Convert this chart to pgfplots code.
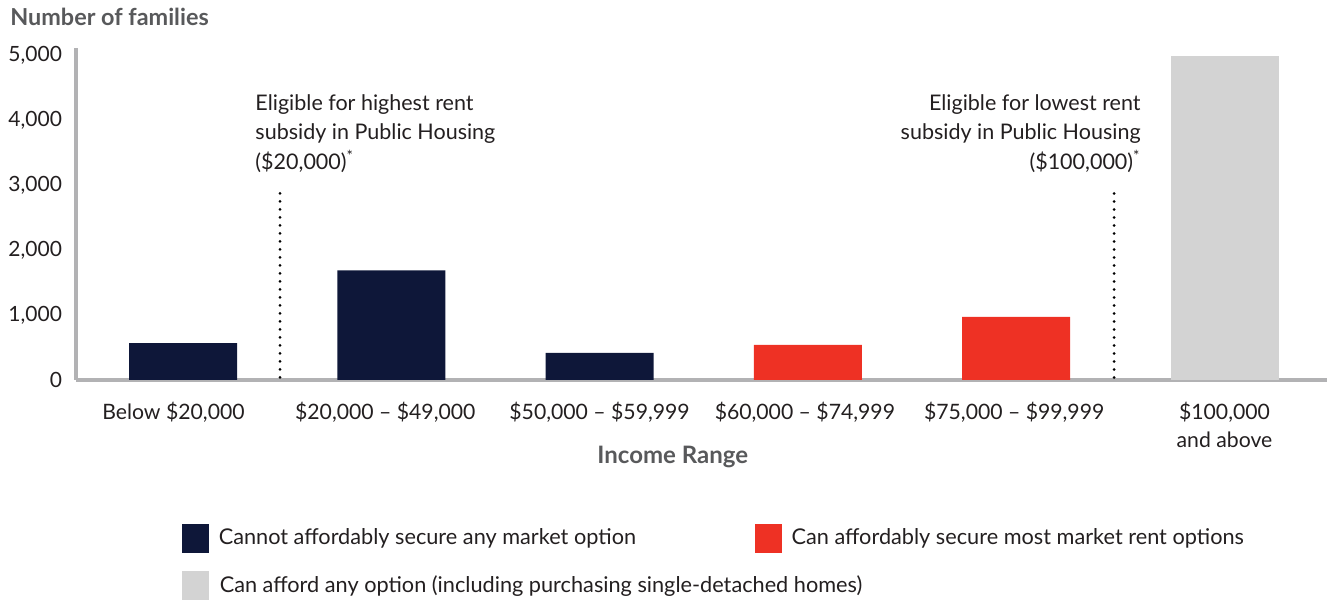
\documentclass[border=0pt]{standalone}
\usepackage{fontspec}
\setmainfont{Lato}
\usepackage{pgfplots}
\pgfplotsset{compat=1.18}
\definecolor{navy}{HTML}{0E1739}
\definecolor{cred}{HTML}{EE3124}
\definecolor{lgray}{HTML}{D3D3D3}
\definecolor{axgray}{HTML}{B2B2B4}
\definecolor{txt}{HTML}{231F20}
\definecolor{lbl}{HTML}{58595B}
\begin{document}
\begin{tikzpicture}
\useasboundingbox (-38pt,-111.5pt) rectangle (625.5pt,190pt);
\begin{axis}[
  scale only axis, width=625.5pt, height=166pt,
  xmin=-0.5137, xmax=5.492, ymin=0, ymax=5120,
  axis lines=left,
  axis line style={-, draw=axgray, line width=2pt},
  clip=false,
  xtick={0,1,2,3,4,5},
  xticklabels={{Below \$20,000\hspace*{9.5pt}}, {\$20,000 -- \$49,000\hspace*{6pt}}, {\$50,000 -- \$59,999}, {\$60,000 -- \$74,999\hspace*{3pt}}, {\$75,000 -- \$99,999\hspace*{2pt}}, {\$100,000\\and above}},
  ytick={0,1000,2000,3000,4000,5000},
  major tick length=0pt,
  tick label style={font=\fontsize{10.5}{14}\selectfont, text=txt},
  xticklabel style={align=center, yshift=-7.5pt, font=\fontsize{10.6}{14}\selectfont},
  yticklabel style={xshift=-3.5pt},
  /pgf/number format/.cd, 1000 sep={,}, assume math mode=true,
  /pgfplots/.cd,
  xlabel={Income Range},
  xlabel style={at={(axis description cs:0.477,-0.232)}, anchor=center, font=\bfseries\fontsize{12}{14}\selectfont, text=lbl},
  legend style={at={(axis description cs:0.0847,-0.4337)}, anchor=north west, draw=none, fill=none, inner sep=0pt, outer sep=0pt, column sep=0pt, row sep=9pt, nodes={inner sep=0pt}, font=\fontsize{10.85}{14}\selectfont, text=txt},
  legend columns=2,
  legend cell align=left,
]
\addplot[ybar, bar width=54pt, bar shift=0pt, fill=navy, draw=none, forget plot] coordinates {(0,570) (1,1690) (2,420)};
\addplot[ybar, bar width=54pt, bar shift=0pt, fill=cred, draw=none, forget plot] coordinates {(3,540) (4,975)};
\addplot[ybar, bar width=54pt, bar shift=0pt, fill=lgray, draw=none, forget plot] coordinates {(5,5000)};
\addplot[black, line width=1.5pt, line cap=round, dash pattern=on 0pt off 4pt, forget plot] coordinates {(0.466,40) (0.466,2940)};
\addplot[black, line width=1.5pt, line cap=round, dash pattern=on 0pt off 4pt, forget plot] coordinates {(4.47,40) (4.47,2940)};
\addlegendimage{legend image code/.code={\fill[navy] (0pt,-7pt) rectangle (13pt,7pt);}}
\addlegendentry{\makebox[273pt][l]{\hspace*{5pt}Cannot affordably secure any market option}}
\addlegendimage{legend image code/.code={\fill[cred] (0pt,-7pt) rectangle (13pt,7pt);}}
\addlegendentry{\hspace*{5pt}Can affordably secure most market rent options}
\addlegendimage{legend image code/.code={\fill[lgray] (0pt,-7pt) rectangle (13pt,7pt);}}
\addlegendentry{\makebox[0pt][l]{\hspace*{5pt}Can afford any option (including purchasing single-detached homes)}}
\node[anchor=west, font=\bfseries\fontsize{11.7}{14}\selectfont, text=lbl, inner sep=0pt] at (axis description cs:-0.0528,1.093) {Number of families};
\node[anchor=north west, align=left, font=\fontsize{10.75}{14.75}\selectfont, text=txt, inner sep=0pt] at (axis cs:0.346,4410) {Eligible for highest rent\\subsidy in Public Housing\\(\$20,000)\textsuperscript{*}};
\node[anchor=north east, align=right, font=\fontsize{10.75}{14.75}\selectfont, text=txt, inner sep=0pt] at (axis cs:4.599,4410) {Eligible for lowest rent\\subsidy in Public Housing\\(\$100,000)\textsuperscript{*}};
\end{axis}
\end{tikzpicture}
\end{document}
